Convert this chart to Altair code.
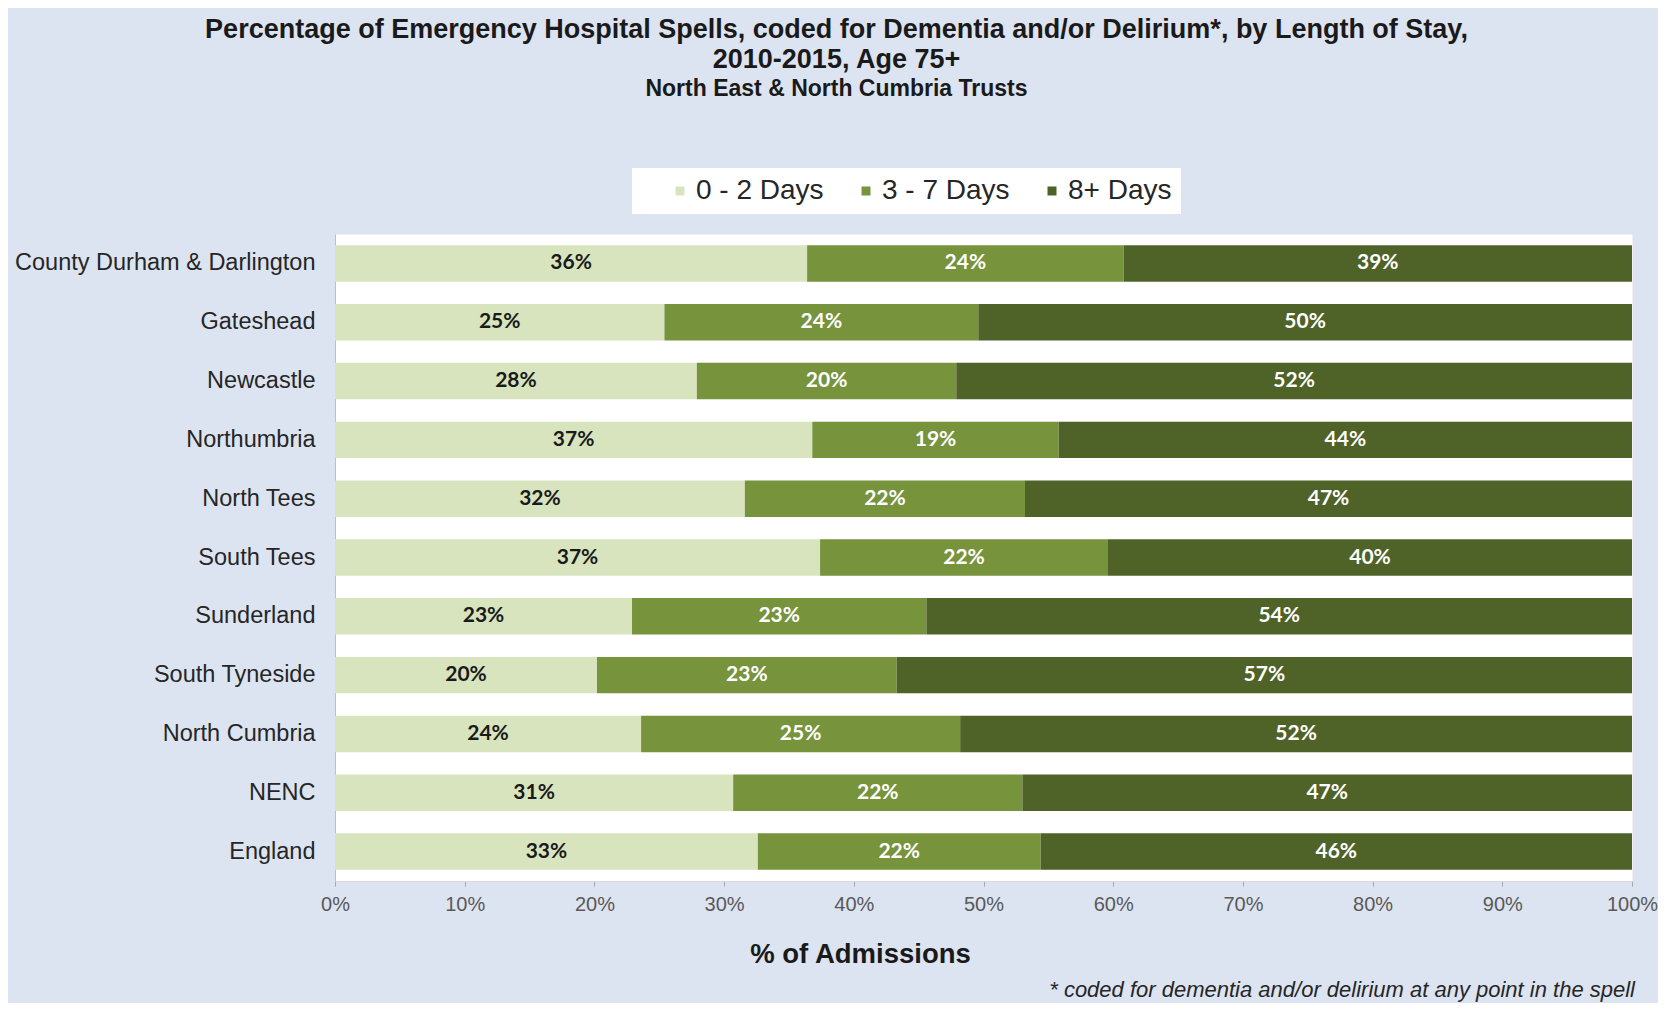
import altair as alt
import pandas as pd

trusts = ["County Durham & Darlington", "Gateshead", "Newcastle", "Northumbria",
          "North Tees", "South Tees", "Sunderland", "South Tyneside",
          "North Cumbria", "NENC", "England"]
stay_0_2 = [36.4, 25.4, 27.9, 36.8, 31.6, 37.4, 22.9, 20.2, 23.6, 30.7, 32.6]
stay_3_7 = [24.4, 24.2, 20.0, 19.0, 21.6, 22.2, 22.7, 23.1, 24.6, 22.3, 21.8]
stay_8p = [39.2, 50.4, 52.1, 44.2, 46.8, 40.4, 54.4, 56.7, 51.8, 47.0, 45.6]
categories = ["0 - 2 Days", "3 - 7 Days", "8+ Days"]
colors = ["#d7e4bd", "#77933c", "#4f6228"]
x_ticks = [0, 10, 20, 30, 40, 50, 60, 70, 80, 90, 100]

title_lines = ["Percentage of Emergency Hospital Spells, coded for Dementia and/or Delirium*, by Length of Stay,",
               "2010-2015, Age 75+"]
subtitle = "North East & North Cumbria Trusts"
x_title = "% of Admissions"
footnote = "* coded for dementia and/or delirium at any point in the spell"

rows = []
for i, t in enumerate(trusts):
    for k, vals in enumerate([stay_0_2, stay_3_7, stay_8p]):
        rows.append({"trust": t, "stay": categories[k], "order": k, "value": vals[i]})
df = pd.DataFrame(rows)

FONT = "Liberation Sans, Arial, sans-serif"

y_enc = alt.Y("trust:N", sort=trusts,
              scale=alt.Scale(paddingInner=0.38, paddingOuter=0.19),
              axis=alt.Axis(title=None, ticks=False, domain=True, domainColor="#bfbfbf",
                            labelFontSize=23.5, labelColor="#262626", labelFont=FONT,
                            labelPadding=20, labelLimit=400))

x_scale = alt.Scale(domain=[0, 100], nice=False)

bars = alt.Chart(df).mark_bar().encode(
    x=alt.X("value:Q", stack="zero", scale=x_scale,
            axis=alt.Axis(values=x_ticks, labelExpr="datum.value + '%'", grid=False,
                          tickSize=5, tickColor="#a6a6a6", domainColor="#d9d9d9",
                          labelFontSize=20, labelColor="#595959", labelFont=FONT,
                          labelPadding=8, labelFlush=False, labelOverlap=False,
                          title=x_title, titleFontSize=27.5, titleFont=FONT,
                          titleFontWeight="bold", titleColor="#1a1a1a",
                          titleX=525, titleY=73, titleAlign="center",
                          titleBaseline="middle")),
    y=y_enc,
    color=alt.Color("stay:N", scale=alt.Scale(domain=categories, range=colors),
                    legend=alt.Legend(orient="none", legendX=297, legendY=-66,
                                      direction="horizontal", title=None,
                                      symbolType="square", symbolSize=81,
                                      symbolStrokeWidth=0, symbolOffset=25,
                                      labelFontSize=28, labelColor="#262626", labelFont=FONT,
                                      labelOffset=2, columnPadding=3,
                                      fillColor="white", padding=9)),
    order=alt.Order("order:Q"),
)

labels = alt.Chart(df).transform_stack(
    stack="value", groupby=["trust"], as_=["x0", "x1"],
    sort=[alt.SortField("order", order="ascending")]
).transform_calculate(
    mid="(datum.x0 + datum.x1) / 2",
    label="format(datum.value, '.0f') + '%'"
).mark_text(font="Lato", fontWeight="bold", fontSize=21, baseline="middle", align="center").encode(
    x=alt.X("mid:Q", scale=x_scale),
    y=alt.Y("trust:N", sort=trusts),
    text="label:N",
    color=alt.condition(alt.datum.order == 0, alt.value("#1a1a1a"), alt.value("#ffffff")),
)

note = alt.Chart(pd.DataFrame({"t": [footnote]})).mark_text(
    align="right", baseline="middle", fontStyle="italic", fontSize=22, font=FONT,
    color="#262626"
).encode(text="t:N", x=alt.value(1300), y=alt.value(756))

chart = alt.layer(bars, labels, note).properties(
    width=1297, height=647,
    autosize=alt.AutoSizeParams(type="none"),
    padding={"left": 327, "top": 226, "right": 26, "bottom": 122},
    background="#dde4f1",
    title=alt.TitleParams(text=title_lines, subtitle=subtitle, anchor="middle",
                          dx=-147, dy=-62, font=FONT, fontSize=27, fontWeight="bold",
                          color="#1a1a1a", lineHeight=30.5,
                          subtitleFont=FONT, subtitleFontSize=23,
                          subtitleFontWeight="bold", subtitleColor="#1a1a1a",
                          subtitlePadding=4),
).configure_view(fill="white", stroke="transparent")

chart.save("out.html", embed_options={"renderer": "svg", "actions": False})
